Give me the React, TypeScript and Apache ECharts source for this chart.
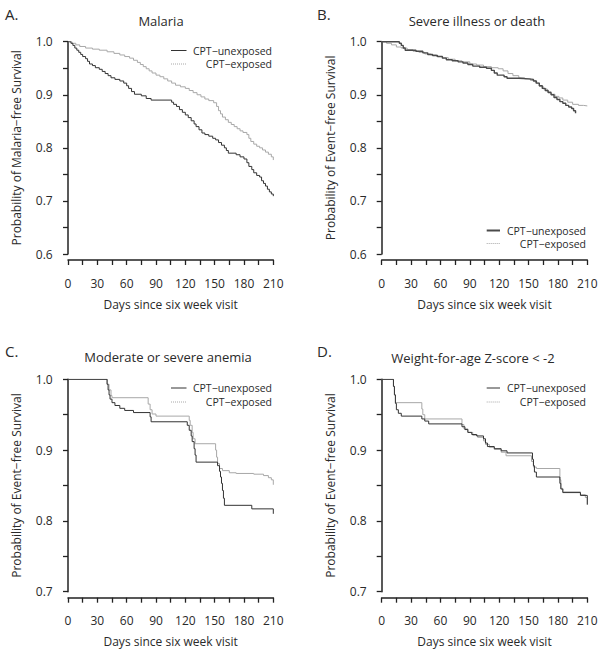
import React, { useEffect, useRef } from "react";
import * as echarts from "echarts";

// ---- Data (Kaplan–Meier step points: [day, survival]) ----
const xTickLabels = [0, 30, 60, 90, 120, 150, 180, 210];
const panelLetters = ["A.", "B.", "C.", "D."];
const panelTitles = ["Malaria", "Severe illness or death", "Moderate or severe anemia", "Weight-for-age Z-score < -2"];
const yAxisNames = [
  "Probability of Malaria\u2212free Survival",
  "Probability of Event\u2212free Survival",
  "Probability of Event\u2212free Survival",
  "Probability of Event\u2212free Survival",
];
const yMins = [0.6, 0.6, 0.7, 0.7];
const seriesNames = ["CPT\u2212unexposed", "CPT\u2212exposed"];

const aUnexposed = [[0,1],[3,0.997],[5,0.993],[7,0.988],[9,0.984],[11,0.98],[13,0.976],[15,0.972],[18,0.968],[20,0.963],[22,0.958],[25,0.955],[28,0.951],[32,0.948],[35,0.944],[38,0.94],[41,0.936],[44,0.932],[48,0.929],[53,0.926],[57,0.922],[60,0.917],[62,0.912],[65,0.906],[68,0.901],[75,0.898],[80,0.893],[85,0.89],[106,0.886],[108,0.882],[111,0.878],[114,0.872],[117,0.867],[120,0.862],[123,0.857],[126,0.851],[129,0.845],[131,0.84],[134,0.834],[137,0.828],[140,0.825],[144,0.822],[148,0.818],[151,0.815],[154,0.81],[157,0.805],[160,0.8],[162,0.795],[164,0.79],[172,0.787],[176,0.783],[180,0.779],[183,0.772],[185,0.765],[188,0.759],[190,0.753],[193,0.748],[196,0.745],[198,0.738],[200,0.733],[202,0.728],[204,0.722],[206,0.717],[208,0.713],[210,0.709]];
const aExposed = [[0,1],[4,0.997],[8,0.994],[12,0.991],[18,0.988],[25,0.986],[32,0.984],[40,0.981],[47,0.978],[53,0.975],[58,0.972],[63,0.969],[67,0.965],[71,0.961],[74,0.957],[77,0.953],[80,0.949],[83,0.945],[86,0.941],[90,0.937],[94,0.934],[98,0.93],[102,0.926],[106,0.922],[110,0.918],[115,0.915],[120,0.912],[124,0.908],[128,0.904],[132,0.9],[136,0.896],[140,0.892],[144,0.889],[149,0.885],[152,0.878],[154,0.87],[156,0.864],[158,0.858],[161,0.853],[164,0.848],[167,0.844],[170,0.84],[173,0.836],[176,0.832],[179,0.829],[183,0.825],[185,0.818],[187,0.812],[190,0.807],[193,0.803],[196,0.8],[199,0.796],[202,0.792],[205,0.788],[208,0.783],[210,0.777]];

const bUnexposed = [[0,1],[18,0.997],[20,0.993],[22,0.988],[24,0.984],[35,0.982],[42,0.979],[47,0.976],[52,0.974],[57,0.972],[62,0.969],[66,0.966],[72,0.964],[78,0.962],[83,0.96],[88,0.957],[93,0.954],[100,0.952],[107,0.95],[112,0.946],[115,0.941],[118,0.937],[125,0.934],[128,0.931],[140,0.93],[150,0.929],[155,0.926],[158,0.922],[161,0.917],[164,0.912],[167,0.908],[170,0.904],[173,0.9],[176,0.895],[179,0.891],[182,0.887],[185,0.884],[188,0.88],[191,0.877],[194,0.874],[196,0.87],[198,0.865]];
const bExposed = [[0,1],[5,0.997],[10,0.994],[15,0.99],[20,0.988],[26,0.985],[32,0.982],[38,0.98],[44,0.977],[50,0.975],[56,0.972],[62,0.97],[68,0.967],[75,0.964],[82,0.962],[90,0.958],[97,0.956],[104,0.953],[112,0.951],[119,0.949],[124,0.945],[129,0.94],[134,0.936],[140,0.932],[146,0.93],[152,0.927],[157,0.922],[161,0.916],[165,0.911],[169,0.906],[173,0.901],[177,0.897],[181,0.894],[185,0.89],[190,0.886],[195,0.882],[201,0.88],[206,0.879],[210,0.878]];

const cUnexposed = [[0,1],[40,0.993],[41,0.985],[42,0.978],[43,0.972],[45,0.967],[48,0.963],[53,0.959],[58,0.956],[67,0.953],[84,0.947],[85,0.94],[122,0.935],[124,0.928],[126,0.92],[127,0.912],[129,0.902],[130,0.893],[131,0.883],[153,0.878],[155,0.87],[156,0.862],[157,0.853],[158,0.843],[159,0.832],[160,0.822],[188,0.817],[210,0.81]];
const cExposed = [[0,1],[40,0.993],[42,0.985],[44,0.977],[45,0.974],[82,0.965],[84,0.957],[86,0.951],[90,0.948],[124,0.942],[125,0.935],[127,0.925],[128,0.916],[130,0.909],[151,0.9],[152,0.89],[153,0.881],[155,0.874],[158,0.871],[165,0.868],[172,0.867],[190,0.866],[200,0.864],[205,0.861],[208,0.858],[210,0.851]];

const dUnexposed = [[0,1],[12,0.99],[13,0.978],[14,0.966],[15,0.957],[17,0.952],[20,0.948],[41,0.944],[44,0.941],[48,0.937],[82,0.933],[85,0.929],[88,0.925],[92,0.922],[97,0.92],[104,0.916],[106,0.91],[108,0.905],[115,0.902],[122,0.899],[128,0.896],[154,0.887],[155,0.878],[156,0.869],[158,0.862],[182,0.853],[183,0.845],[185,0.84],[203,0.836],[210,0.823]];
const dExposed = [[0,1],[12,0.99],[13,0.978],[14,0.967],[41,0.958],[42,0.95],[44,0.944],[82,0.936],[84,0.93],[88,0.925],[93,0.921],[98,0.918],[104,0.913],[106,0.908],[110,0.904],[115,0.901],[122,0.897],[127,0.892],[153,0.884],[155,0.876],[158,0.874],[182,0.858],[183,0.846],[185,0.841],[203,0.837],[208,0.833],[210,0.823]];

const unexposedSets = [aUnexposed, bUnexposed, cUnexposed, dUnexposed];
const exposedSets = [aExposed, bExposed, cExposed, dExposed];

// ---- Layout ----
const FONT = "'Open Sans', 'Liberation Sans', sans-serif";
const TEXT = "#2a2a2a";
const grids = [
  { left: 68, top: 41.7, width: 205.3, height: 212.3, yOff: 6.3, xOff: 6 },
  { left: 381.7, top: 41.7, width: 205.6, height: 212.3, yOff: 6, xOff: 6 },
  { left: 68, top: 379.3, width: 205.3, height: 212.4, yOff: 6.3, xOff: 6 },
  { left: 381.7, top: 379.3, width: 205.6, height: 212.4, yOff: 6, xOff: 6 },
];
const letterPos = [[5, 6], [317, 6], [5, 343], [317, 343]];
const titlePos = [[161, 21], [477, 21], [168, 357], [473, 358]];
// legend: [lineX1, lineX2, textRight, y1, y2]
const legendPos = [
  [171, 186.5, 272, 50.5, 64],
  [486.7, 500, 586, 230.5, 243.5],
  [171, 186.5, 272, 388, 402],
  [486.7, 500, 586, 388, 402],
];
const unexColor = ["#333", "#4a4a4a", "#333", "#333"];
const unexWidth = [1, 1.4, 1, 1];
const expColor = "#a8a8a8";

export default function App() {
  const ref = useRef<HTMLDivElement>(null);
  useEffect(() => {
    if (!ref.current) return;
    const chart = echarts.init(ref.current, undefined, { renderer: "svg" });

    const gridOpts = grids.map((g) => ({ left: g.left, top: g.top, width: g.width, height: g.height, containLabel: false }));
    const xAxes = grids.map((g, i) => ({
      type: "value",
      gridIndex: i,
      min: 0,
      max: 210,
      interval: 15,
      offset: g.xOff,
      name: "Days since six week visit",
      nameLocation: "middle",
      nameGap: 38,
      nameTextStyle: { fontFamily: FONT, fontSize: 12, color: TEXT },
      axisLine: { show: true, lineStyle: { color: "#222", width: 1.5 } },
      axisTick: { show: true, length: 5, lineStyle: { color: "#222", width: 1.3 } },
      axisLabel: {
        margin: 17,
        fontFamily: FONT,
        fontSize: 12,
        color: TEXT,
        formatter: (v: number) => (xTickLabels.indexOf(Math.round(v)) >= 0 ? String(Math.round(v)) : ""),
      },
      splitLine: { show: false },
    }));
    const yAxes = grids.map((g, i) => ({
      type: "value",
      gridIndex: i,
      min: yMins[i],
      max: 1.0,
      interval: 0.05,
      offset: g.yOff,
      name: yAxisNames[i],
      nameLocation: "middle",
      nameGap: 39,
      nameTextStyle: { fontFamily: FONT, fontSize: 12, color: TEXT },
      axisLine: { show: true, lineStyle: { color: "#222", width: 1.5 } },
      axisTick: { show: true, length: 5, lineStyle: { color: "#222", width: 1.3 } },
      axisLabel: {
        margin: 9,
        fontFamily: FONT,
        fontSize: 12,
        color: TEXT,
        formatter: (v: number) => (Math.abs(v * 10 - Math.round(v * 10)) < 1e-6 ? v.toFixed(1) : ""),
      },
      splitLine: { show: false },
    }));

    const series: any[] = [];
    for (let i = 0; i < 4; i++) {
      series.push({
        type: "line",
        name: seriesNames[1],
        xAxisIndex: i,
        yAxisIndex: i,
        data: exposedSets[i],
        step: "end",
        showSymbol: false,
        symbol: "none",
        lineStyle: { color: expColor, width: 1 },
        z: 2,
      });
      series.push({
        type: "line",
        name: seriesNames[0],
        xAxisIndex: i,
        yAxisIndex: i,
        data: unexposedSets[i],
        step: "end",
        showSymbol: false,
        symbol: "none",
        lineStyle: { color: unexColor[i], width: unexWidth[i] },
        z: 3,
      });
    }

    const graphics: any[] = [];
    for (let i = 0; i < 4; i++) {
      graphics.push({
        type: "text",
        left: letterPos[i][0],
        top: letterPos[i][1],
        style: { text: panelLetters[i], font: `15px ${FONT}`, fill: TEXT },
      });
      graphics.push({
        type: "text",
        x: titlePos[i][0],
        y: titlePos[i][1],
        style: { text: panelTitles[i], font: `13px ${FONT}`, fill: TEXT, textAlign: "center", textVerticalAlign: "middle" },
      });
      const L = legendPos[i];
      graphics.push({
        type: "line",
        shape: { x1: L[0], y1: L[3], x2: L[1], y2: L[3] },
        style: { stroke: unexColor[i], lineWidth: i === 1 ? 2 : 1 },
      });
      graphics.push({
        type: "line",
        shape: { x1: L[0], y1: L[4], x2: L[1], y2: L[4] },
        style: { stroke: expColor, lineWidth: 1, lineDash: [1, 1] },
      });
      graphics.push({
        type: "text",
        x: L[2],
        y: L[3],
        style: { text: seriesNames[0], font: `10.5px ${FONT}`, fill: TEXT, textAlign: "right", textVerticalAlign: "middle" },
      });
      graphics.push({
        type: "text",
        x: L[2],
        y: L[4],
        style: { text: seriesNames[1], font: `10.5px ${FONT}`, fill: TEXT, textAlign: "right", textVerticalAlign: "middle" },
      });
    }

    chart.setOption({
      animation: false,
      backgroundColor: "#fff",
      grid: gridOpts,
      xAxis: xAxes,
      yAxis: yAxes,
      series,
      graphic: graphics,
    });
    return () => chart.dispose();
  }, []);
  return <div ref={ref} style={{ position: "absolute", left: 0, top: 0, width: 601, height: 655 }} />;
}
